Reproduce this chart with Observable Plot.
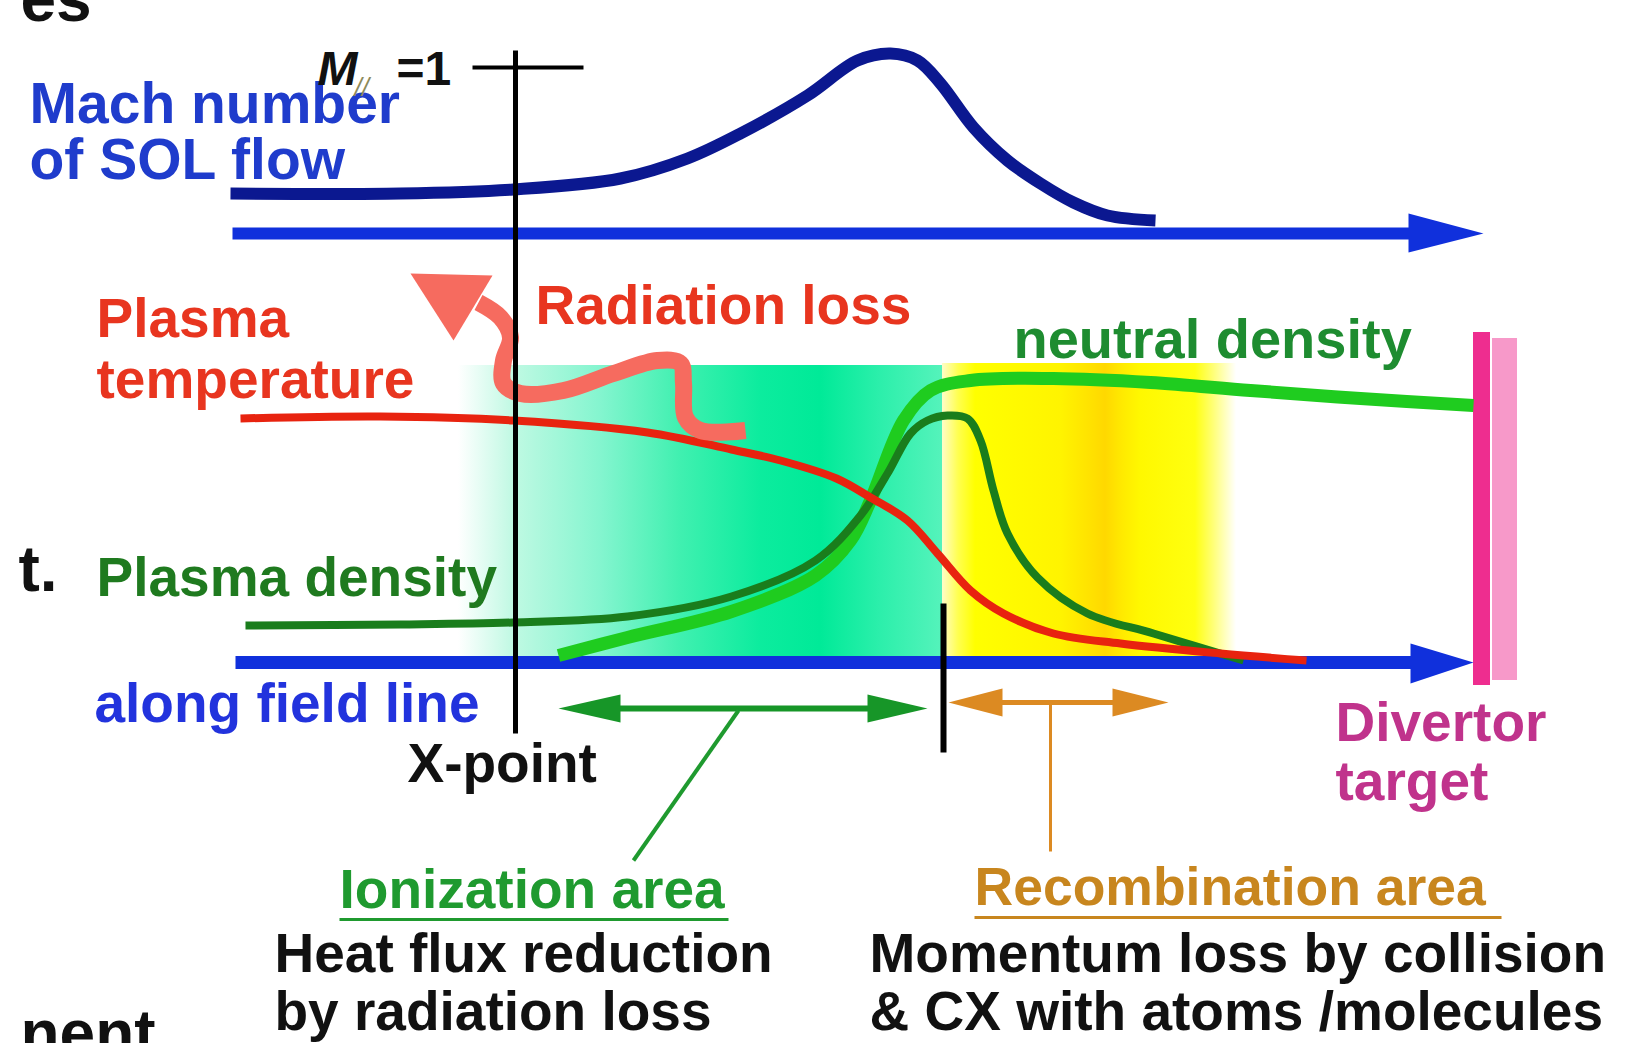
<!DOCTYPE html>
<html><head><meta charset="utf-8">
<script src="https://cdn.jsdelivr.net/npm/d3@7"></script>
<script src="https://cdn.jsdelivr.net/npm/@observablehq/plot@0.6"></script>
<style>html,body{margin:0;padding:0;background:#fff;overflow:hidden}</style>
</head><body><div id="chart"></div>
<script>
// ---- Schematic data (s = position along field line, v = level; schematic units) ----
const machS = [230, 400, 513, 620, 687, 740, 807, 857, 890, 917, 940, 973, 1007, 1040, 1073, 1107, 1155];
const machV = [193, 193, 189, 178, 158, 133, 95, 60, 53, 60, 83, 127, 160, 183, 202, 215, 220];

const tempS = [240, 380, 513, 647, 731, 780, 836, 870, 907, 937, 970, 1003, 1053, 1120, 1220, 1306];
const tempV = [418, 416, 420, 432, 449, 460, 478, 497, 520, 553, 590, 613, 633, 643, 653, 660];

const densS = [245, 400, 513, 627, 731, 815, 860, 887, 910, 927, 947, 967, 980, 993, 1007, 1037, 1087, 1153, 1243];
const densV = [625, 624, 622, 616, 596, 560, 515, 473, 433, 420, 415, 418, 440, 490, 533, 577, 613, 633, 660];

const neutS = [558, 627, 731, 815, 850, 870, 903, 930, 970, 1053, 1150, 1250, 1360, 1473];
const neutV = [655, 637, 611, 575, 540, 500, 420, 390, 380, 378, 382, 390, 398, 405];

const radS = [745, 700, 685, 683, 680, 657, 613, 563, 520, 503, 503, 510, 500, 478];
const radV = [430, 430, 417, 383, 363, 360, 373, 390, 393, 383, 360, 337, 317, 302];
const radHeadS = [410, 492, 453];
const radHeadV = [273, 275, 340];

const flowAxisS = [232, 1410];   const flowAxisV = 233;
const fieldAxisS = [235, 1412];  const fieldAxisV = 662;
const flowHeadS = [1408, 1483, 1408];  const flowHeadV = [213, 233, 252];
const fieldHeadS = [1410, 1473, 1410]; const fieldHeadV = [643, 662, 683];

const xPointS = 515;  const xPointV = [50, 733];
const m1LineS = [472, 583]; const m1LineV = 67;
const boundaryS = 943; const boundaryV = [603, 752];

const ionRegion = {s1: 458, s2: 942, v1: 365, v2: 656};
const recRegion = {s1: 942, s2: 1236, v1: 363, v2: 656};
const ionStops = [[458,"#ffffff"],[513,"#c0f9e3"],[600,"#84f5cf"],[680,"#40f0b0"],[760,"#0cec9e"],[820,"#00ea98"],[880,"#2cefab"],[942,"#55f3bb"]];
const recStops = [[942,"#fffcc8"],[958,"#ffff50"],[975,"#ffff00"],[1060,"#fff400"],[1090,"#ffe200"],[1105,"#ffd800"],[1122,"#ffea00"],[1140,"#fff800"],[1195,"#ffff10"],[1212,"#ffff70"],[1236,"#ffffff"]];

const targetS = [1473, 1490]; const targetV = [332, 685];
const targetBackS = [1492, 1517]; const targetBackV = [338, 680];

const ionArrowS = [600, 880]; const ionArrowV = 708;
const ionHeadL = {s: [558, 620, 620], v: [708, 694, 722]};
const ionHeadR = {s: [927, 867, 867], v: [708, 694, 722]};
const ionPointerS = [738, 633]; const ionPointerV = [710, 860];

const recArrowS = [990, 1125]; const recArrowV = 702;
const recHeadL = {s: [948, 1002, 1002], v: [702, 688, 716]};
const recHeadR = {s: [1168, 1112, 1112], v: [702, 688, 716]};
const recStemS = 1050; const recStemV = [702, 851];

const blueLabels = [{s:29, v:122, t:"Mach number"}, {s:29, v:178, t:"of SOL flow"}];
const fieldLabel = [{s:94, v:721, t:"along field line"}];
const redLabels = [{s:96, v:336, t:"Plasma"}, {s:96, v:397, t:"temperature"}, {s:535, v:323, t:"Radiation loss"}];
const densLabel = [{s:96, v:595, t:"Plasma density"}];
const neutLabel = [{s:1013, v:357, t:"neutral density"}];
const blackLabels = [{s:407, v:781, t:"X-point"},
  {s:274, v:971, t:"Heat flux reduction"}, {s:274, v:1029, t:"by radiation loss"},
  {s:869, v:971, t:"Momentum loss by collision"}, {s:869, v:1029, t:"& CX with atoms /molecules"}];
const edgeLabels = [{s:18, v:590, t:"t."}, {s:20, v:20, t:"es"}, {s:20, v:1054, t:"nent"}];
const targetLabels = [{s:1335, v:740, t:"Divertor"}, {s:1335, v:799, t:"target"}];
const ionLabel = [{s:339, v:907, t:"Ionization area"}];
const recLabel = [{s:974, v:904, t:"Recombination area"}];
const ionUnderline = {s: [339, 728], v: 919};
const recUnderline = {s: [974, 1501], v: 917};

// ---- helpers ----
const pts = (xs, ys) => xs.map((x, i) => ({x, y: Array.isArray(ys) ? ys[i] : ys}));
const tri = (id, xs, ys) => xs.map((x, i) => ({id, x, y: ys[i]}));
const FONT = "Liberation Sans, Arial, Helvetica, sans-serif";
const txt = (data, fill, size, extra = {}) => Plot.text(data, {x: "s", y: "v", text: "t", fill, fontSize: size,
  fontFamily: FONT, fontWeight: "bold", textAnchor: "start", lineAnchor: "bottom", ...extra});
const seg = (xs, ys, stroke, w) => Plot.line(pts(xs, ys), {x: "x", y: "y", stroke, strokeWidth: w, strokeLinecap: "butt"});

const W = 1638, H = 1043;
const plot = Plot.plot({
  width: W, height: H, margin: 0,
  x: {domain: [0, W], axis: null},
  y: {domain: [H, 0], axis: null},
  marks: [
    Plot.rect([ionRegion], {x1: "s1", x2: "s2", y1: "v1", y2: "v2", fill: "url(#ionGrad)"}),
    Plot.rect([recRegion], {x1: "s1", x2: "s2", y1: "v1", y2: "v2", fill: "url(#recGrad)"}),
    Plot.rect([{}], {x1: targetBackS[0], x2: targetBackS[1], y1: targetBackV[0], y2: targetBackV[1], fill: "#f799c9"}),
    Plot.rect([{}], {x1: targetS[0], x2: targetS[1], y1: targetV[0], y2: targetV[1], fill: "#ee2d8f"}),
    // axes arrows
    seg(flowAxisS, flowAxisV, "#1030dc", 12),
    Plot.line(tri("a", flowHeadS, flowHeadV), {x: "x", y: "y", fill: "#1030dc", stroke: "none", curve: "linear-closed"}),
    seg(fieldAxisS, fieldAxisV, "#1030dc", 13),
    Plot.line(tri("b", fieldHeadS, fieldHeadV), {x: "x", y: "y", fill: "#1030dc", stroke: "none", curve: "linear-closed"}),
    // Mach curve
    Plot.line(pts(machS, machV), {x: "x", y: "y", stroke: "#0b1890", strokeWidth: 12, curve: "catmull-rom", strokeLinecap: "butt"}),
    // profiles
    Plot.line(pts(neutS, neutV), {x: "x", y: "y", stroke: "#1fcc1f", strokeWidth: 13, curve: "catmull-rom", strokeLinecap: "butt"}),
    Plot.line(pts(densS, densV), {x: "x", y: "y", stroke: "#1a7d1c", strokeWidth: 8, curve: "catmull-rom", strokeLinecap: "butt"}),
    Plot.line(pts(tempS, tempV), {x: "x", y: "y", stroke: "#e8230f", strokeWidth: 8, curve: "catmull-rom", strokeLinecap: "butt"}),
    // radiation arrow
    Plot.line(pts(radS, radV), {x: "x", y: "y", stroke: "#f66b5f", strokeWidth: 17, curve: "catmull-rom", strokeLinecap: "butt"}),
    Plot.line(tri("r", radHeadS, radHeadV), {x: "x", y: "y", fill: "#f66b5f", stroke: "none", curve: "linear-closed"}),
    // ionization / recombination arrows
    seg(ionArrowS, ionArrowV, "#179628", 6),
    Plot.line(tri("l", ionHeadL.s, ionHeadL.v), {x: "x", y: "y", fill: "#179628", stroke: "none", curve: "linear-closed"}),
    Plot.line(tri("r", ionHeadR.s, ionHeadR.v), {x: "x", y: "y", fill: "#179628", stroke: "none", curve: "linear-closed"}),
    seg(ionPointerS, ionPointerV, "#1f9a2f", 4),
    seg(recArrowS, recArrowV, "#dc8a22", 5),
    Plot.line(tri("l", recHeadL.s, recHeadL.v), {x: "x", y: "y", fill: "#dc8a22", stroke: "none", curve: "linear-closed"}),
    Plot.line(tri("r", recHeadR.s, recHeadR.v), {x: "x", y: "y", fill: "#dc8a22", stroke: "none", curve: "linear-closed"}),
    seg([recStemS, recStemS], recStemV, "#dc8a22", 3),
    // black markers
    seg([xPointS, xPointS], xPointV, "#000", 5),
    seg(m1LineS, m1LineV, "#000", 4),
    seg([boundaryS, boundaryS], boundaryV, "#000", 6),
    // underlines
    seg(ionUnderline.s, ionUnderline.v, "#1f9a2f", 3),
    seg(recUnderline.s, recUnderline.v, "#c8861e", 3),
    // labels
    txt(blueLabels, "#1f3ccc", 57),
    txt(fieldLabel, "#2233dd", 55),
    txt(redLabels, "#e8351f", 55),
    txt(densLabel, "#1f7a1f", 55),
    txt(neutLabel, "#1e8c30", 56),
    txt(blackLabels, "#111111", 55),
    txt(edgeLabels, "#111111", 64),
    txt(targetLabels, "#c0338c", 55),
    txt(ionLabel, "#1f9a2f", 55),
    txt(recLabel, "#c8861e", 53.5),
    txt([{s:317, v:84, t:"M"}], "#111111", 48, {fontStyle: "italic"}),
    txt([{s:354, v:95, t:"//"}], "#8d8a5a", 26, {fontStyle: "italic", fontWeight: "normal"}),
    txt([{s:396, v:84, t:"=1"}], "#111111", 48)
  ]
});

// gradient definitions for the shaded regions
const svg = d3.select(plot);
const defs = svg.insert("defs", ":first-child");
function grad(id, region, stops) {
  const g = defs.append("linearGradient").attr("id", id).attr("x1", 0).attr("x2", 1).attr("y1", 0).attr("y2", 0);
  stops.forEach(([s, c]) => g.append("stop").attr("offset", (s - region.s1) / (region.s2 - region.s1)).attr("stop-color", c));
}
grad("ionGrad", ionRegion, ionStops);
grad("recGrad", recRegion, recStops);
document.getElementById("chart").appendChild(plot);
</script>
</body></html>
